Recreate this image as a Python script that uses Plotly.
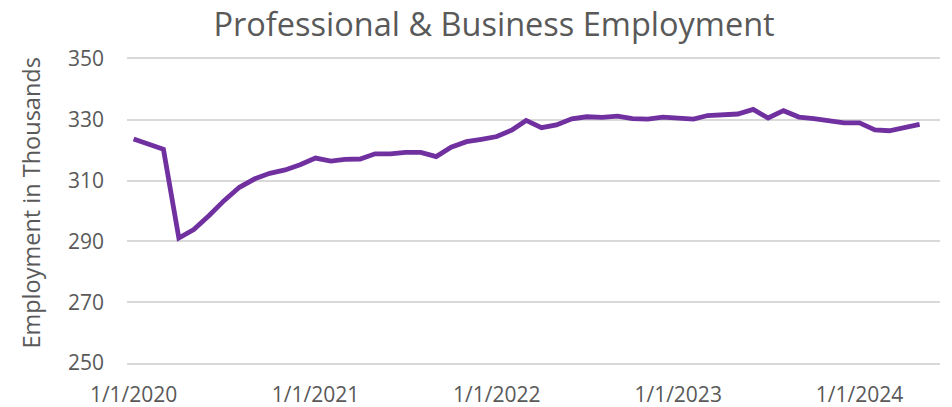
import plotly.graph_objects as go
import pandas as pd

months = pd.date_range("2020-01-01", "2024-05-01", freq="MS")
employment = [
    323.7, 322.1, 320.3, 291.1, 293.9, 298.5, 303.4, 307.8, 310.6, 312.4, 313.5, 315.2,
    317.4, 316.4, 317.0, 317.1, 318.8, 318.8, 319.3, 319.3, 317.9, 321.0, 322.8, 323.6,
    324.5, 326.7, 329.8, 327.4, 328.3, 330.3, 331.0, 330.8, 331.2, 330.4, 330.2, 330.9,
    330.5, 330.2, 331.4, 331.6, 331.9, 333.4, 330.6, 333.0, 330.9, 330.4, 329.8, 329.0,
    329.0, 326.7, 326.4, 327.6, 328.5,
]
x_tick_vals = ["2020-01-01", "2021-01-01", "2022-01-01", "2023-01-01", "2024-01-01"]
x_tick_text = ["1/1/2020", "1/1/2021", "1/1/2022", "1/1/2023", "1/1/2024"]
y_ticks = [250, 270, 290, 310, 330, 350]

grey = "#595959"
grid = "#d9d9d9"
font_family = "Open Sans"

fig = go.Figure()
fig.add_trace(go.Scatter(
    x=months, y=employment, mode="lines",
    line=dict(color="#7030A0", width=4.8),
    hoverinfo="x+y",
))
fig.update_layout(
    width=952, height=407,
    margin=dict(l=127, r=12, t=59, b=44),
    paper_bgcolor="white", plot_bgcolor="white",
    showlegend=False,
    font=dict(family=font_family, color=grey),
    title=dict(text="Professional & Business Employment", x=0.519, xanchor="center",
               y=0.94, yanchor="middle", font=dict(size=32.5, color=grey)),
    annotations=[dict(
        text="Employment in Thousands", textangle=-90,
        xref="paper", yref="paper", x=-0.1175, y=0.526,
        xanchor="center", yanchor="middle", showarrow=False,
        font=dict(size=23.5, color=grey, family=font_family),
    )],
)
fig.update_xaxes(
    type="date", range=["2019-12-18 16:00", "2024-06-11"],
    tickvals=x_tick_vals, ticktext=x_tick_text,
    showgrid=False, zeroline=False,
    showline=True, mirror=True, linecolor=grid, linewidth=1.5,
    tickfont=dict(size=21, color=grey), ticks="", ticklabelstandoff=12,
    automargin=False,
)
fig.update_yaxes(
    range=[250, 350], tickvals=y_ticks,
    showgrid=True, gridcolor=grid, gridwidth=1.5,
    zeroline=False, showline=False, ticks="",
    tickfont=dict(size=21, color=grey), ticklabelstandoff=22,
    automargin=False,
)
fig.write_html("out.html", config={"displayModeBar": False},
               post_script="document.body.style.margin='0';")
